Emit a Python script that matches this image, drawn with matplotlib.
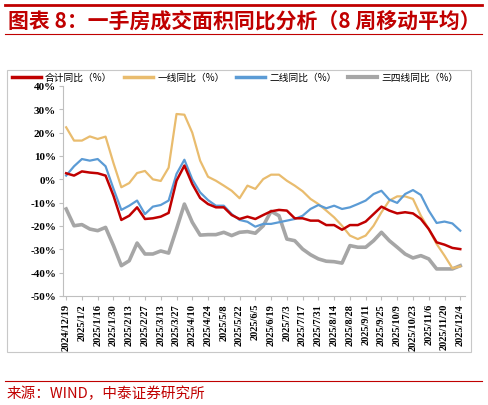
import pandas as pd
import matplotlib.pyplot as plt
from matplotlib.patches import Rectangle
from matplotlib.lines import Line2D

plt.rcParams['font.family'] = ['Noto Sans CJK SC', 'DejaVu Sans']

dates = pd.date_range('2024-12-19', periods=51, freq='7D')
date_labels = [f"{d.year}/{d.month}/{d.day}" for d in dates]

total = [2.6, 1.6, 3.4, 2.9, 2.6, 1.6, -7.0, -17.4, -15.6, -12.0, -17.0, -16.7, -16.0, -14.4,
         -0.6, 5.9, -2.0, -8.0, -10.6, -12.0, -12.0, -15.3, -17.0, -16.0, -17.0, -15.3, -13.7,
         -13.1, -13.4, -16.7, -16.7, -17.7, -17.7, -19.6, -19.6, -21.6, -19.6, -19.6, -18.1,
         -14.9, -11.7, -13.4, -14.6, -14.1, -14.6, -17.0, -21.3, -27.0, -28.0, -29.4, -29.9]
tier1 = [22.3, 16.6, 16.6, 18.4, 17.3, 18.3, 7.0, -3.4, -1.6, 2.7, 3.6, 0.0, -0.7, 5.0,
         28.0, 27.7, 20.0, 8.0, 1.1, -0.6, -2.7, -4.9, -8.1, -2.7, -4.1, 0.1, 2.0,
         2.0, -0.6, -2.7, -5.1, -8.4, -10.6, -13.4, -16.3, -19.9, -24.1, -25.6, -24.1,
         -19.9, -14.1, -9.1, -7.3, -7.3, -8.4, -15.6, -21.3, -27.7, -32.7, -38.1, -37.3]
tier2 = [1.6, 5.6, 8.7, 8.0, 8.7, 5.6, -4.0, -13.1, -11.3, -9.1, -14.9, -11.7, -11.0, -9.1,
         2.3, 8.4, 0.0, -5.6, -8.9, -11.3, -11.3, -14.9, -17.4, -18.2, -20.3, -19.1, -19.1,
         -18.4, -17.7, -17.0, -15.6, -12.7, -11.0, -12.4, -11.3, -12.7, -12.0, -10.6, -9.1,
         -6.3, -4.9, -8.7, -10.1, -6.3, -4.6, -6.7, -13.4, -18.7, -18.1, -18.9, -22.0]
tier34 = [-12.7, -19.9, -19.4, -21.3, -22.0, -20.6, -28.4, -37.0, -34.9, -27.3, -32.0, -32.0, -30.7, -31.6,
          -21.3, -10.6, -18.4, -23.9, -23.7, -23.7, -22.7, -24.1, -22.7, -22.4, -23.1, -19.9, -13.7,
          -15.6, -25.6, -26.3, -29.9, -32.3, -34.1, -35.1, -35.3, -35.9, -28.4, -29.1, -29.1,
          -26.3, -22.7, -26.3, -29.1, -32.0, -33.7, -32.7, -34.1, -38.4, -38.4, -38.4, -37.0]

names = ['合计同比（%）', '一线同比（%）', '二线同比（%）', '三四线同比（%）']
colors = ['#C00000', '#E9BC6E', '#5B9BD5', '#A6A6A6']
widths = [1.8, 1.6, 1.6, 2.6]

W, H = 488, 406
fig = plt.figure(figsize=(W / 100, H / 100), dpi=100)

# header / footer decorations
red = '#C00000'
fig.add_artist(Line2D([5 / W, 482 / W], [1 - 6 / H, 1 - 6 / H], color=red, lw=2))
fig.add_artist(Line2D([5 / W, 482 / W], [1 - 35 / H, 1 - 35 / H], color=red, lw=0.8))
fig.text(8 / W, 1 - 22 / H, '图表 8：一手房成交面积同比分析（8 周移动平均）', color=red,
         fontsize=15, fontweight='bold', fontstyle='italic', va='center', ha='left')
fig.add_artist(Line2D([5 / W, 482 / W], [1 - 382 / H, 1 - 382 / H], color=red, lw=0.8))
fig.text(7 / W, 1 - 394 / H, '来源：WIND，中泰证券研究所', color=red, fontsize=10.5,
         va='center', ha='left')
fig.add_artist(Rectangle((7 / W, 1 - 353 / H), 464 / W, 282 / H, fill=False,
                         edgecolor='#C8C8C8', lw=0.8))

ax = fig.add_axes([63 / W, 1 - 297 / H, 402 / W, 210 / H])
x = range(len(dates))
series = [total, tier1, tier2, tier34]
order = [3, 1, 2, 0]
for k in order:
    ax.plot(x, series[k], color=colors[k], lw=widths[k], label=names[k], zorder=2 + (k == 0))

ax.set_ylim(-50, 40)
ax.set_yticks(range(-50, 41, 10))
ax.set_yticklabels([f"{v}%" for v in range(-50, 41, 10)], fontfamily='Liberation Serif',
                   fontweight='bold', fontsize=8)
ax.set_xlim(-0.4, 50.6)
ax.set_xticks(range(0, 51, 2))
ax.set_xticklabels(date_labels[::2], rotation=90, fontfamily='Liberation Serif',
                   fontweight='bold', fontsize=7.5)
for s in ['top', 'right']:
    ax.spines[s].set_visible(False)
for s in ['left', 'bottom']:
    ax.spines[s].set_color('#BFBFBF')
ax.tick_params(axis='both', color='#BFBFBF', length=3, pad=2)
ax.set_facecolor('none')

handles = [Line2D([], [], color=c, lw=2.5 if i < 3 else 3) for i, c in enumerate(colors)]
fig.legend(handles, names, loc='center left', bbox_to_anchor=(8 / W, 1 - 78 / H), ncol=4,
           frameon=False, fontsize=7, handlelength=3.0, columnspacing=1.2, handletextpad=0.4,
           borderaxespad=0)

fig.savefig('out.png', dpi=100)
